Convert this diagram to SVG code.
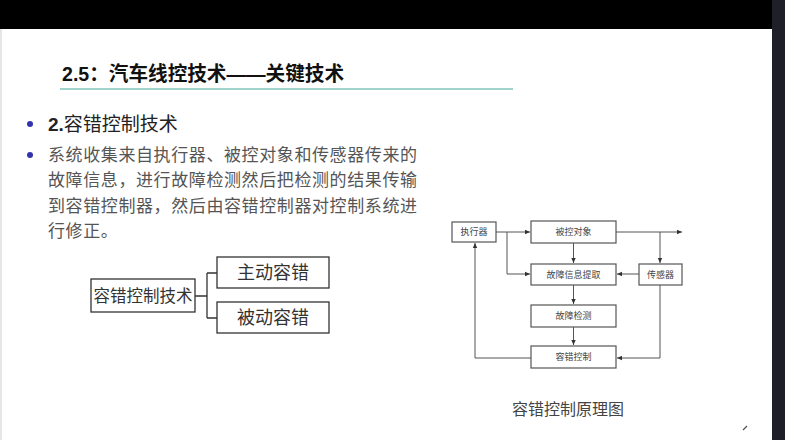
<svg xmlns="http://www.w3.org/2000/svg" width="785" height="440" viewBox="0 0 785 440">
<style>
.cjk{font-family:"Liberation Sans","Noto Sans CJK SC",sans-serif}
.body{font-size:17px;fill:#555;letter-spacing:0.6px}
.box{fill:#fff;stroke:#333;stroke-width:1.3}
.sbox{fill:#fff;stroke:#555;stroke-width:1.2}
.ln{fill:none;stroke:#333;stroke-width:1.3}
.sl{fill:none;stroke:#555;stroke-width:1}
.st{font-size:9px;fill:#444;text-anchor:middle}
.tt{font-size:18px;fill:#333;text-anchor:middle}
</style>
<defs>
<marker id="ah" markerWidth="6" markerHeight="6" refX="5" refY="3" orient="auto" markerUnits="userSpaceOnUse">
<path d="M0,0.8 L5,3 L0,5.2 Z" fill="#333"/>
</marker>
</defs>
<rect x="0" y="0" width="785" height="440" fill="#fff"/>
<rect x="0" y="0" width="2" height="440" fill="#e6e6e6"/>
<rect x="0" y="0" width="772" height="29" fill="#000"/>
<rect x="772" y="0" width="13" height="440" fill="#1f1f29"/>

<g id="title">
<text x="62" y="81" class="cjk" font-size="20" font-weight="bold" fill="#111" textLength="282" lengthAdjust="spacingAndGlyphs">2.5：汽车线控技术——关键技术</text>
<rect x="60" y="88" width="453" height="2" fill="#9fd3cb"/>
</g>

<g id="bullets">
<circle cx="30" cy="124" r="3" fill="#3333aa"/>
<text x="48" y="131" class="cjk" font-size="19" fill="#222"><tspan font-weight="bold">2.</tspan>容错控制技术</text>
<circle cx="30" cy="155" r="3" fill="#3333aa"/>
<text class="cjk body">
<tspan x="48" y="161">系统收集来自执行器、被控对象和传感器传来的</tspan>
<tspan x="48" y="186">故障信息，进行故障检测然后把检测的结果传输</tspan>
<tspan x="48" y="212">到容错控制器，然后由容错控制器对控制系统进</tspan>
<tspan x="48" y="237">行修正。</tspan>
</text>
</g>

<g id="tree-root">
<rect class="box" x="91" y="279" width="104" height="33"/>
<text class="cjk" x="143" y="301.5" font-size="16.5" fill="#333" text-anchor="middle">容错控制技术</text>
</g>
<g id="tree-active">
<rect class="box" x="217" y="257" width="112" height="31"/>
<text class="cjk tt" x="273" y="279">主动容错</text>
</g>
<g id="tree-passive">
<rect class="box" x="217" y="302" width="112" height="31"/>
<text class="cjk tt" x="273" y="324">被动容错</text>
</g>
<g id="tree-connectors">
<path class="ln" d="M195,296 H207 M207,273 V318 M207,273 H217 M207,318 H217"/>
</g>

<g id="n-actuator">
<rect class="sbox" x="452" y="222" width="44" height="20"/>
<text class="cjk st" x="474" y="235">执行器</text>
</g>
<g id="n-plant">
<rect class="sbox" x="531" y="221" width="85" height="22"/>
<text class="cjk st" x="573.5" y="235">被控对象</text>
</g>
<g id="n-extract">
<rect class="sbox" x="531" y="264" width="85" height="21"/>
<text class="cjk st" x="573.5" y="278">故障信息提取</text>
</g>
<g id="n-sensor">
<rect class="sbox" x="639" y="264" width="43" height="21"/>
<text class="cjk st" x="660.5" y="278">传感器</text>
</g>
<g id="n-detect">
<rect class="sbox" x="531" y="305" width="85" height="22"/>
<text class="cjk st" x="573.5" y="319">故障检测</text>
</g>
<g id="n-ftc">
<rect class="sbox" x="531" y="346" width="85" height="22"/>
<text class="cjk st" x="573.5" y="360">容错控制</text>
</g>

<g id="connectors">
<path class="sl" d="M496,232 H530" marker-end="url(#ah)"/>
<path class="sl" d="M507,232 V274 H530" marker-end="url(#ah)"/>
<path class="sl" d="M573.5,243 V263" marker-end="url(#ah)"/>
<path class="sl" d="M616,232 H682" marker-end="url(#ah)"/>
<path class="sl" d="M660,232 V263" marker-end="url(#ah)"/>
<path class="sl" d="M639,274 H617" marker-end="url(#ah)"/>
<path class="sl" d="M573.5,285 V304" marker-end="url(#ah)"/>
<path class="sl" d="M573.5,327 V345" marker-end="url(#ah)"/>
<path class="sl" d="M531,358 H475 V243" marker-end="url(#ah)"/>
<path class="sl" d="M660,285 V358 H617" marker-end="url(#ah)"/>
</g>

<g id="caption">
<text x="512" y="415" class="cjk" font-size="16" fill="#444">容错控制原理图</text>
</g>
<path d="M743,430 L747,426" stroke="#555" stroke-width="1.2"/>
</svg>
